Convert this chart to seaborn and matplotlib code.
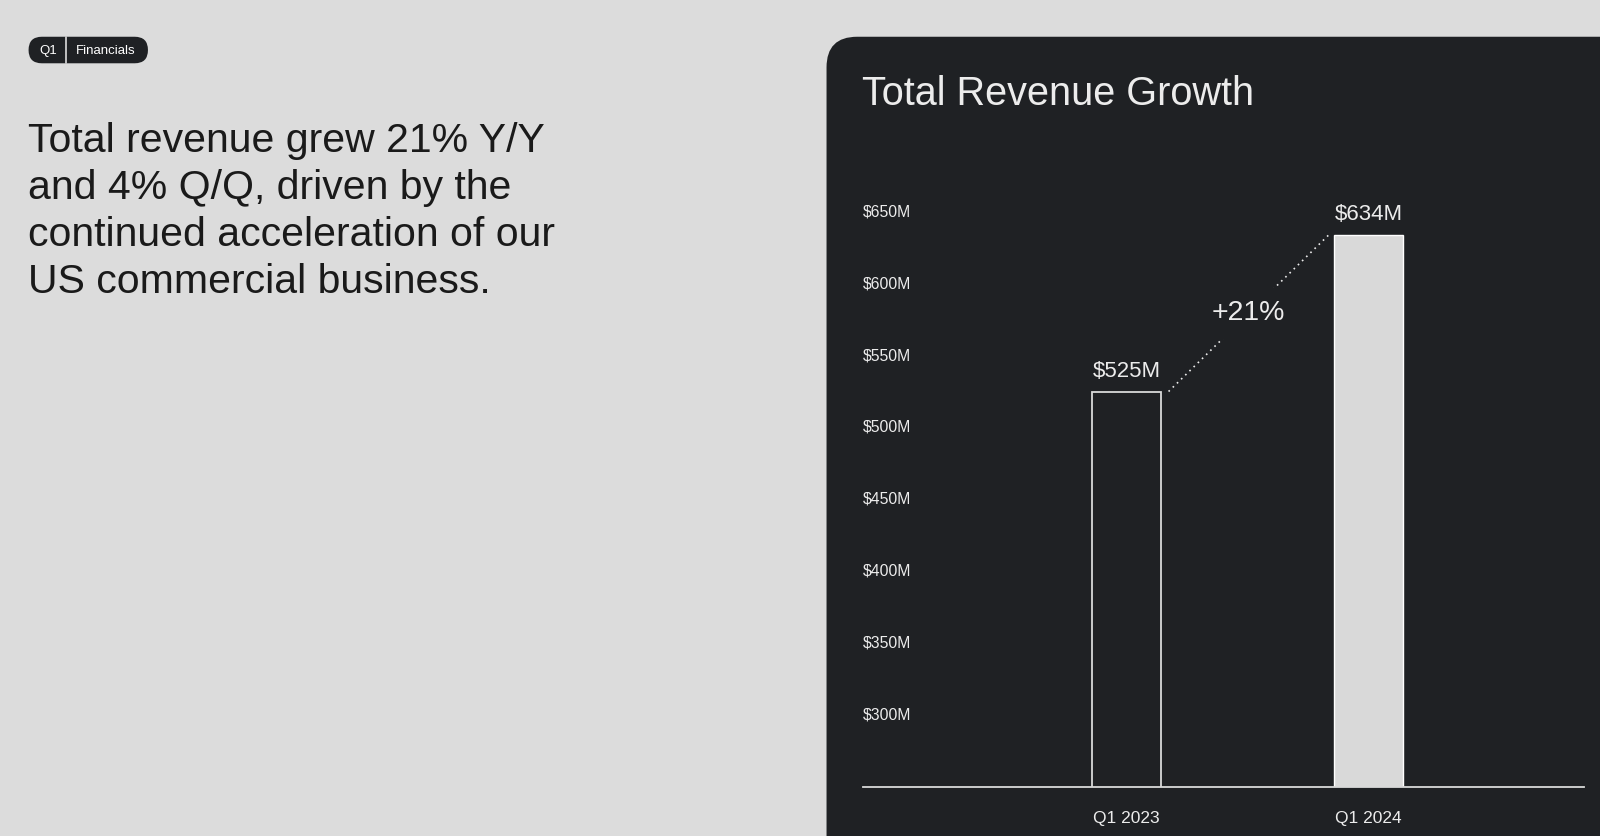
import pandas as pd
import matplotlib.pyplot as plt
import seaborn as sns
from matplotlib.patches import FancyBboxPatch

# data
quarters = ["Q1 2023", "Q1 2024"]
revenue = [525, 634]
value_labels = ["$525M", "$634M"]
growth_label = "+21%"
ytick_values = [300, 350, 400, 450, 500, 550, 600, 650]
ytick_labels = [f"${v}M" for v in ytick_values]
title = "Total Revenue Growth"
headline = ("Total revenue grew 21% Y/Y\nand 4% Q/Q, driven by the\n"
            "continued acceleration of our\nUS commercial business.")
badge = ["Q1", "Financials"]

# look
BG = "#dcdcdc"
PANEL = "#1f2124"
LIGHT = "#d9d9d9"
TEXT_LIGHT = "#ececec"
TEXT_DARK = "#1a1a1a"

sns.set_style("white")
plt.rcParams["font.family"] = ["Liberation Sans", "DejaVu Sans"]

W, H = 1568, 819  # layout grid in reference pixels
fig = plt.figure(figsize=(16, 8.36), dpi=100)
fig.patch.set_facecolor(BG)

# background layer: panel, badge, headline
bg = fig.add_axes([0, 0, 1, 1], zorder=0)
bg.set_xlim(0, W)
bg.set_ylim(H, 0)
bg.axis("off")

bg.add_patch(FancyBboxPatch((810, 36), 1000, 1000,
                            boxstyle="round,pad=0,rounding_size=30",
                            facecolor=PANEL, edgecolor="none"))
bg.add_patch(FancyBboxPatch((28, 36), 117, 26,
                            boxstyle="round,pad=0,rounding_size=13",
                            facecolor=PANEL, edgecolor="none"))
bg.plot([65, 65], [36, 62], color=BG, lw=1.2)
bg.text(47, 49.5, badge[0], color="white", fontsize=9.5, ha="center", va="center")
bg.text(104, 49.5, badge[1], color="white", fontsize=9.5, ha="center", va="center")

bg.text(27, 120, headline, color=TEXT_DARK, fontsize=29.5,
        ha="left", va="top", linespacing=1.30)
bg.text(845, 103, title, color=TEXT_LIGHT, fontsize=28.5,
        ha="left", va="baseline")

# chart
df = pd.DataFrame({"quarter": quarters, "revenue": revenue})
ax = fig.add_axes([846 / W, 1 - 771 / H, (1552 - 846) / W, (771 - 137) / H], zorder=1)
ax.set_facecolor("none")

sns.barplot(data=df, x="quarter", y="revenue", hue="quarter",
            palette=[PANEL, LIGHT], saturation=1, width=0.287,
            legend=False, ax=ax)
ax.patches[0].set_edgecolor(LIGHT)
ax.patches[0].set_linewidth(1.3)

ax.set_ylim(250, 700)
ax.set_xlim(-1.089, 1.89)
ax.set_xlabel("")
ax.set_ylabel("")
ax.set_yticks([])
ax.tick_params(axis="x", length=0, pad=17, labelsize=12.5, labelcolor=TEXT_LIGHT)
sns.despine(ax=ax, left=True)
ax.spines["bottom"].set_color(LIGHT)
ax.spines["bottom"].set_linewidth(1.3)

for v, lab in zip(ytick_values, ytick_labels):
    ax.text(0, v, lab, transform=ax.get_yaxis_transform(), ha="left", va="center",
            fontsize=11.3, color=TEXT_LIGHT)

for i, (v, lab) in enumerate(zip(revenue, value_labels)):
    ax.annotate(lab, (i, v), xytext=(0, 7), textcoords="offset points",
                ha="center", va="bottom", fontsize=16, color=TEXT_LIGHT)

# dotted growth connector with label
x0, x1 = 0 + 0.1435 + 0.03, 1 - 0.1435 - 0.02
ax.plot([x0, x1], [revenue[0], revenue[1]], color=TEXT_LIGHT, lw=1.2,
        linestyle=(0, (1, 2.5)))
ax.text((x0 + x1) / 2, (revenue[0] + revenue[1]) / 2, growth_label,
        ha="center", va="center", fontsize=20.5, color=TEXT_LIGHT,
        bbox=dict(facecolor=PANEL, edgecolor="none", pad=9))

fig.savefig("out.png", dpi=100, facecolor=BG)
